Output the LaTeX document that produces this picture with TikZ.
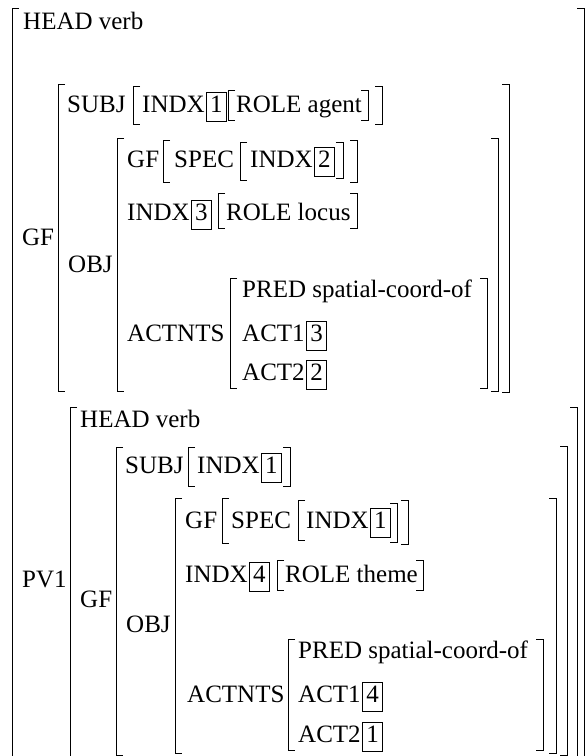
\documentclass[tikz,border=0pt]{standalone}
\usepackage{fontspec}
\setmainfont{Liberation Serif}
\newcommand\avmfont{\fontsize{25}{29}\selectfont}
\newcommand\avmL[3]{\draw[brk] (#1+7,#2) -- (#1,#2) -- (#1,#3) -- (#1+7,#3);}
\newcommand\avmR[3]{\draw[brk] (#1-7,#2) -- (#1,#2) -- (#1,#3) -- (#1-7,#3);}
\begin{document}
\begin{tikzpicture}[x=1pt,y=-1pt,
  txt/.style={inner sep=0pt, anchor=base west, font=\avmfont},
  numbox/.style={draw, line width=0.7pt, inner xsep=3.5pt, inner ysep=2pt,
    text height=18pt, text depth=7pt, anchor=base west, xshift=1.5pt, font=\avmfont},
  brk/.style={line width=0.8pt}]
\useasboundingbox (0,0) rectangle (587,756);
% brackets
\avmL{12}{8}{760} \avmR{584}{8}{760}
\avmL{58}{84}{391} \avmR{509}{84}{392}
\avmL{133}{86}{124} \avmR{382}{86}{124}
\avmL{228}{90}{120} \avmR{368}{90}{120}
\avmL{117}{138}{391} \avmR{498}{138}{391}
\avmL{163}{140}{182} \avmR{357}{140}{182}
\avmL{240}{142}{180} \avmR{343}{142}{178}
\avmL{218}{193}{228} \avmR{357}{193}{228}
\avmL{230}{278}{388} \avmR{487}{278}{388}
\avmL{70}{407}{757} \avmR{577}{407}{757}
\avmL{116}{447}{755} \avmR{567}{446}{755}
\avmL{188}{447}{486} \avmR{290}{447}{486}
\avmL{175}{498}{753} \avmR{556}{498}{753}
\avmL{222}{498}{543} \avmR{408}{500}{544}
\avmL{298}{500}{540} \avmR{397}{503}{542}
\avmL{277}{560}{590} \avmR{423}{560}{590}
\avmL{288}{639}{750} \avmR{543}{639}{750}
% first part
\node[txt] (h1) at (23,29) {HEAD verb};
\node[txt] (gfl) at (22,245) {GF};
\node[txt] (pv) at (22,587) {PV1};
\node[txt] (s1) at (67,112) {SUBJ};
\node[txt] (o1) at (68,272) {OBJ};
\node[txt] (s1i) at (142,112) {INDX};
\node[numbox] (b1a) at (s1i.base east) {1};
\node[txt] (s1r) at (236,112) {ROLE agent};
\node[txt] (g1) at (127,167) {GF};
\node[txt] (g1s) at (174,167) {SPEC};
\node[txt] (g1i) at (250,167) {INDX};
\node[numbox] (b2a) at (g1i.base east) {2};
\node[txt] (i3) at (127,220) {INDX};
\node[numbox] (b3a) at (i3.base east) {3};
\node[txt] (r3) at (226,220) {ROLE locus};
\node[txt] (a1) at (127,341) {ACTNTS};
\node[txt] (p1) at (242,297) {PRED spatial-coord-of};
\node[txt] (a11) at (242,341) {ACT1};
\node[numbox] (b3b) at (a11.base east) {3};
\node[txt] (a12) at (242,380) {ACT2};
\node[numbox] (b2b) at (a12.base east) {2};
% second part
\node[txt] (h2) at (80,427) {HEAD verb};
\node[txt] (g2l) at (80,607) {GF};
\node[txt] (o2) at (126,632) {OBJ};
\node[txt] (s2) at (125,473) {SUBJ};
\node[txt] (s2i) at (197,473) {INDX};
\node[numbox] (b1b) at (s2i.base east) {1};
\node[txt] (g2) at (185,528) {GF};
\node[txt] (g2s) at (231,528) {SPEC};
\node[txt] (g2i) at (306,528) {INDX};
\node[numbox] (b1c) at (g2i.base east) {1};
\node[txt] (i4) at (185,582) {INDX};
\node[numbox] (b4a) at (i4.base east) {4};
\node[txt] (r4) at (285,582) {ROLE theme};
\node[txt] (a2) at (187,702) {ACTNTS};
\node[txt] (p2) at (298,658) {PRED spatial-coord-of};
\node[txt] (a21) at (298,702) {ACT1};
\node[numbox] (b4b) at (a21.base east) {4};
\node[txt] (a22) at (298,742) {ACT2};
\node[numbox] (b1d) at (a22.base east) {1};
\end{tikzpicture}
\end{document}
